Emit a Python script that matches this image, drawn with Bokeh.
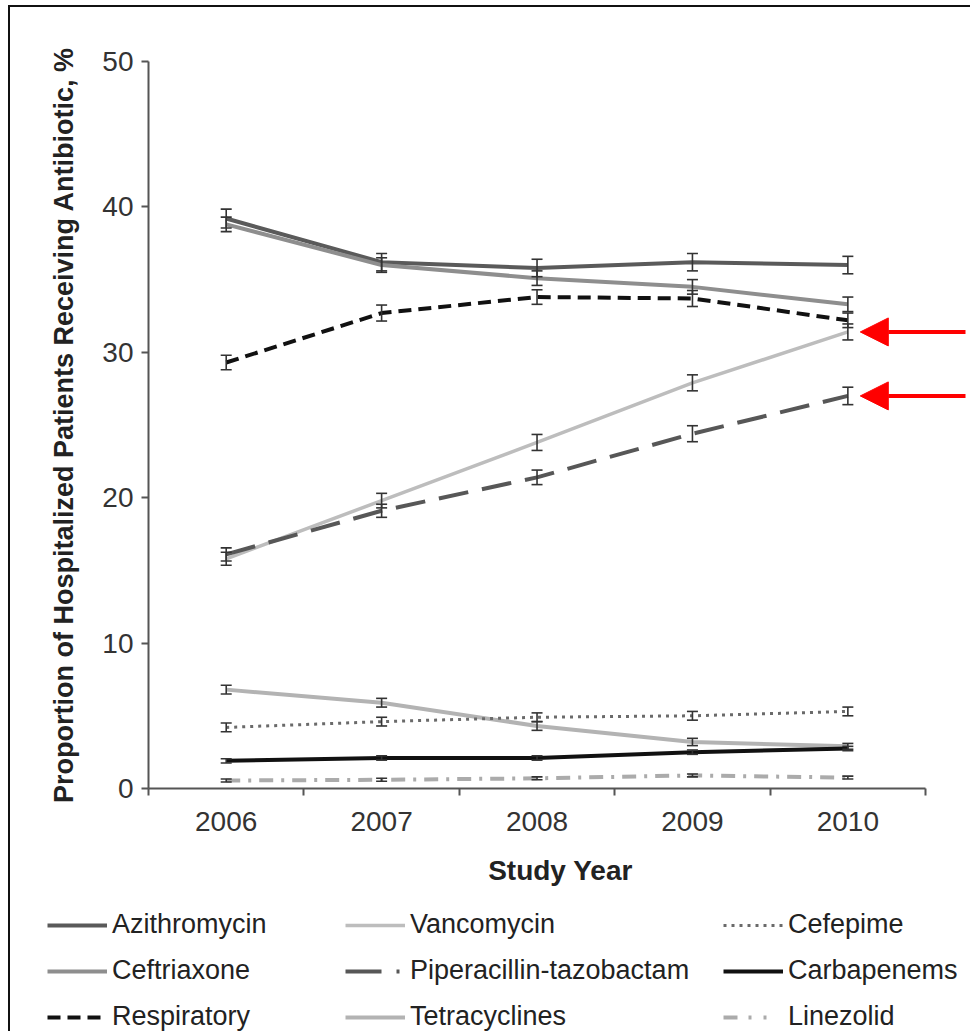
from bokeh.plotting import figure
from bokeh.models import (ColumnDataSource, Whisker, TeeHead, Legend, LegendItem,
                          FixedTicker, Range1d, Arrow, NormalHead)
from bokeh.embed import file_html
from bokeh.resources import INLINE

years = [2006, 2007, 2008, 2009, 2010]
year_labels = ["2006", "2007", "2008", "2009", "2010"]
y_ticks = [0, 10, 20, 30, 40, 50]

azithromycin = [39.2, 36.2, 35.8, 36.2, 36.0]
ceftriaxone = [38.8, 36.0, 35.1, 34.5, 33.3]
respiratory = [29.3, 32.7, 33.8, 33.7, 32.2]
vancomycin = [15.8, 19.8, 23.8, 27.9, 31.4]
piperacillin = [16.1, 19.1, 21.4, 24.4, 27.0]
tetracyclines = [6.8, 5.9, 4.3, 3.2, 2.9]
cefepime = [4.2, 4.6, 4.9, 5.0, 5.3]
carbapenems = [1.9, 2.1, 2.1, 2.5, 2.75]
linezolid = [0.55, 0.6, 0.7, 0.9, 0.75]

err_azithromycin = [0.65, 0.6, 0.6, 0.6, 0.6]
err_ceftriaxone = [0.5, 0.5, 0.5, 0.5, 0.5]
err_respiratory = [0.5, 0.55, 0.5, 0.55, 0.5]
err_vancomycin = [0.45, 0.5, 0.55, 0.55, 0.55]
err_piperacillin = [0.45, 0.45, 0.5, 0.55, 0.6]
err_tetracyclines = [0.3, 0.3, 0.3, 0.25, 0.2]
err_cefepime = [0.3, 0.3, 0.3, 0.3, 0.3]
err_carbapenems = [0.15, 0.15, 0.15, 0.15, 0.15]
err_linezolid = [0.1, 0.1, 0.1, 0.1, 0.1]

# name, values, errors, colour, width, dash in chart, dash in legend
series = [
    ("Azithromycin", azithromycin, err_azithromycin, "#5a5a5a", 4, "solid", "solid"),
    ("Ceftriaxone", ceftriaxone, err_ceftriaxone, "#8e8e8e", 4, "solid", "solid"),
    ("Respiratory", respiratory, err_respiratory, "#111111", 4, "13 7", "13 7"),
    ("Vancomycin", vancomycin, err_vancomycin, "#bdbdbd", 3.5, "solid", "solid"),
    ("Piperacillin-tazobactam", piperacillin, err_piperacillin, "#575757", 4, "30 14", "36 15 3 30"),
    ("Tetracyclines", tetracyclines, err_tetracyclines, "#b3b3b3", 4, "solid", "solid"),
    ("Cefepime", cefepime, err_cefepime, "#6a6a6a", 3, "3 5", "3 5"),
    ("Carbapenems", carbapenems, err_carbapenems, "#111111", 4, "solid", "solid"),
    ("Linezolid", linezolid, err_linezolid, "#ababab", 4, "14 8 3 8", "14 11 3 12 3 30"),
]
styles = {s[0]: s for s in series}

FONT = "Liberation Sans"

# main chart: frame spans to the right edge so the arrows are not clipped;
# the x axis line is limited with bounds
p = figure(width=962, height=888, output_backend="svg", toolbar_location=None,
           x_range=Range1d(2005.5, 2010.802), y_range=Range1d(0, 50),
           min_border_left=138, min_border_right=0, min_border_top=54,
           min_border_bottom=107)
p.styles = {"margin-left": "8px", "margin-top": "5px",
            "border-left": "2px solid #111", "border-top": "2px solid #111"}
p.outline_line_color = None
p.xgrid.grid_line_color = None
p.ygrid.grid_line_color = None
p.background_fill_color = "white"
p.border_fill_color = "white"

for name, vals, errs, color, lw, dash, _ in series:
    src = ColumnDataSource(dict(x=years, y=vals,
                                lower=[v - e for v, e in zip(vals, errs)],
                                upper=[v + e for v, e in zip(vals, errs)]))
    p.line("x", "y", source=src, line_color=color, line_width=lw,
           line_dash=dash, line_cap="butt", line_join="round")
    w = Whisker(base="x", lower="lower", upper="upper", source=src,
                line_color="#333333", line_width=1.6, level="overlay",
                upper_head=TeeHead(size=11, line_color="#333333", line_width=1.6),
                lower_head=TeeHead(size=11, line_color="#333333", line_width=1.6))
    p.add_layout(w)

# red arrows pointing at the 2010 values of Vancomycin and Piperacillin-tazobactam
for yv in (vancomycin[-1], piperacillin[-1]):
    p.add_layout(Arrow(x_start=2010.757, y_start=yv, x_end=2010.08, y_end=yv,
                       line_color="#ff0000", line_width=4,
                       end=NormalHead(size=28, fill_color="#ff0000",
                                      line_color="#ff0000", line_width=1)))

# axes
p.xaxis.bounds = (2005.5, 2010.5)
p.xaxis.ticker = FixedTicker(ticks=years, minor_ticks=[2005.5, 2006.5, 2007.5, 2008.5, 2009.5, 2010.5])
p.xaxis.major_label_overrides = {y: l for y, l in zip(years, year_labels)}
p.xaxis.major_tick_out = 0
p.xaxis.major_tick_in = 0
p.xaxis.minor_tick_out = 7
p.xaxis.minor_tick_in = 0
p.xaxis.minor_tick_line_color = "#555555"
p.xaxis.minor_tick_line_width = 2
p.yaxis.ticker = FixedTicker(ticks=y_ticks)
p.yaxis.major_tick_out = 7
p.yaxis.major_tick_in = 0
p.yaxis.minor_tick_out = 0
p.yaxis.minor_tick_in = 0
for ax in (p.xaxis, p.yaxis):
    ax.axis_line_color = "#555555"
    ax.axis_line_width = 2
    ax.major_tick_line_color = "#555555"
    ax.major_tick_line_width = 2
    ax.major_label_text_font = FONT
    ax.major_label_text_font_size = "28px"
    ax.major_label_text_color = "#333333"
    ax.axis_label_text_font = FONT
    ax.axis_label_text_font_style = "bold"
    ax.axis_label_text_color = "#222222"

p.xaxis.axis_label = "Study Year"
p.xaxis.axis_label_text_font_size = "28px"
p.xaxis.major_label_standoff = 16
p.xaxis.axis_label_standoff = 21
p.yaxis.axis_label = "Proportion of Hospitalized Patients Receiving Antibiotic, %"
p.yaxis.axis_label_text_font_size = "27px"
p.yaxis.major_label_standoff = 8
p.yaxis.axis_label_standoff = 20

# legend panel below the chart, three columns; its lines hold the same data
# but the y range keeps them out of view, only the legend glyphs show
lp = figure(width=962, height=138, output_backend="svg", toolbar_location=None,
            x_range=Range1d(0, 1), y_range=Range1d(1000, 1001),
            min_border=0, min_border_left=0, min_border_right=0,
            min_border_top=0, min_border_bottom=0)
lp.styles = {"margin-left": "8px", "border-left": "2px solid #111"}
lp.axis.visible = False
lp.grid.visible = False
lp.outline_line_color = None
lp.background_fill_color = "white"
lp.border_fill_color = "white"

legend_columns = [
    (["Azithromycin", "Ceftriaxone", "Respiratory"], 37),
    (["Vancomycin", "Piperacillin-tazobactam", "Tetracyclines"], 335),
    (["Cefepime", "Carbapenems", "Linezolid"], 713),
]
for names, xpx in legend_columns:
    items = []
    for n in names:
        _, vals, _, color, lw, _, ldash = styles[n]
        r = lp.line(x=years, y=vals, line_color=color, line_width=lw, line_dash=ldash,
                    line_cap="butt")
        items.append(LegendItem(label=n, renderers=[r]))
    leg = Legend(items=items, location=(xpx, -1), orientation="vertical",
                 glyph_width=60, glyph_height=30, label_height=30,
                 label_standoff=5, spacing=15, padding=0, margin=0,
                 border_line_color=None, background_fill_alpha=0,
                 label_text_font=FONT, label_text_font_size="27px",
                 label_text_color="#222222")
    lp.add_layout(leg, "center")

open("out.html", "w").write(file_html([p, lp], INLINE))
